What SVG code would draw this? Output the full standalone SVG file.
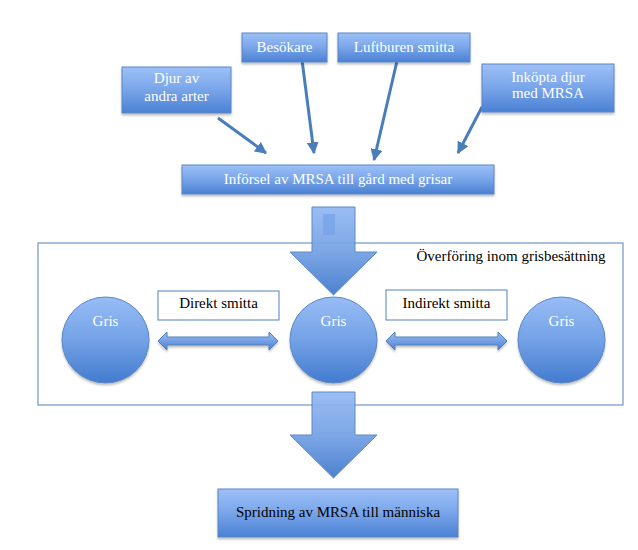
<svg xmlns="http://www.w3.org/2000/svg" width="638" height="550" viewBox="0 0 638 550">
<style>
.box{stroke:#5a86c4;stroke-width:1;fill:url(#gBox);filter:url(#sh)}
.wt{fill:#ffffff;text-anchor:middle}
.bt{fill:#000000;text-anchor:middle}
.lbl{fill:#ffffff;stroke:#4f81bd;stroke-width:1}
.conn{stroke:#4a7ebb;stroke-width:3;fill:none;marker-end:url(#ah)}
.circ{fill:url(#gCirc);stroke:#5a86c4;stroke-width:1;filter:url(#sh)}
.big{fill:url(#gArrow);stroke:#4f81bd;stroke-width:1}
.dbl{fill:url(#gDbl);stroke:#4f81bd;stroke-width:1;filter:url(#sh)}
</style>
<defs>
<linearGradient id="gBox" x1="0" y1="0" x2="0" y2="1">
<stop offset="0" stop-color="#9dc0f7"/>
<stop offset="0.5" stop-color="#78a5e9"/>
<stop offset="1" stop-color="#4a80d3"/>
</linearGradient>
<linearGradient id="gCirc" x1="0" y1="0" x2="0" y2="1">
<stop offset="0" stop-color="#98bcf6"/>
<stop offset="0.5" stop-color="#73a2e6"/>
<stop offset="1" stop-color="#437bcf"/>
</linearGradient>
<linearGradient id="gArrow" x1="0" y1="0" x2="0" y2="1">
<stop offset="0" stop-color="#93b8f4"/>
<stop offset="0.5" stop-color="#72a0e4"/>
<stop offset="1" stop-color="#3f77cb"/>
</linearGradient>
<linearGradient id="gDbl" x1="0" y1="0" x2="0" y2="1">
<stop offset="0" stop-color="#9ec0f6"/>
<stop offset="1" stop-color="#4a7fd0"/>
</linearGradient>
<filter id="sh" x="-10%" y="-10%" width="130%" height="140%">
<feDropShadow dx="0" dy="2" stdDeviation="1.2" flood-color="#000" flood-opacity="0.25"/>
</filter>
<marker id="ah" viewBox="0 0 10 10" refX="9" refY="5" markerWidth="4" markerHeight="4" orient="auto" markerUnits="strokeWidth">
<path d="M0,0 L10,5 L0,10 z" fill="#4a7ebb"/>
</marker>
</defs>

<rect id="container" x="38" y="243" width="585" height="162" fill="none" stroke="#4f81bd" stroke-width="1"/>
<text class="bt" x="511" y="261" font-family="Liberation Serif" font-size="15">Överföring inom grisbesättning</text>

<g id="connectors">
<line class="conn" x1="218" y1="118" x2="266" y2="153"/>
<line class="conn" x1="302" y1="60" x2="314" y2="153"/>
<line class="conn" x1="397" y1="61" x2="374" y2="160"/>
<line class="conn" x1="482" y1="107" x2="458" y2="153"/>
<polygon id="arrow-top" class="big" opacity="0.92" points="312,207 355,207 355,252 377,252 333.5,295 290,252 312,252"/>
<rect x="323" y="214" width="12" height="21" fill="#6f9ee4" opacity="0.6"/>
<polygon id="arrow-bottom" class="big" opacity="0.92" points="312,392 355,392 355,435 377,435 333.5,478 290,435 312,435"/>
<polygon id="dbl-left" class="dbl" points="158,341 167,332 167,337 269,337 269,332 278,341 269,350 269,345 167,345 167,350"/>
<polygon id="dbl-right" class="dbl" points="386,341 395,332 395,337 498,337 498,332 507,341 498,350 498,345 395,345 395,350"/>
</g>

<g id="djur">
<rect class="box" x="122" y="67" width="109" height="46"/>
<text class="wt" x="176.5" y="83" font-family="Liberation Serif" font-size="15">Djur av</text>
<text class="wt" x="176.5" y="101" font-family="Liberation Serif" font-size="15">andra arter</text>
</g>
<g id="besokare">
<rect class="box" x="242" y="33" width="85" height="29"/>
<text class="wt" x="284.5" y="52" font-family="Liberation Serif" font-size="15">Besökare</text>
</g>
<g id="luftburen">
<rect class="box" x="338" y="33" width="132" height="29"/>
<text class="wt" x="404" y="52" font-family="Liberation Serif" font-size="15">Luftburen smitta</text>
</g>
<g id="inkopta">
<rect class="box" x="482" y="64" width="132" height="48"/>
<text class="wt" x="548" y="82" font-family="Liberation Serif" font-size="15">Inköpta djur</text>
<text class="wt" x="548" y="98" font-family="Liberation Serif" font-size="15">med MRSA</text>
</g>
<g id="inforsel">
<rect class="box" x="182" y="165" width="312" height="29"/>
<text class="wt" x="338" y="184" font-family="Liberation Serif" font-size="15">Införsel av MRSA till gård med grisar</text>
</g>

<g id="gris-left">
<ellipse class="circ" cx="105.5" cy="340" rx="43.5" ry="43"/>
<text class="wt" x="105.5" y="326" font-family="Liberation Serif" font-size="15">Gris</text>
</g>
<g id="gris-mid">
<ellipse class="circ" cx="333.5" cy="340" rx="43.5" ry="43"/>
<text class="wt" x="333.5" y="326" font-family="Liberation Serif" font-size="15">Gris</text>
</g>
<g id="gris-right">
<ellipse class="circ" cx="561.5" cy="340" rx="43.5" ry="43"/>
<text class="wt" x="561.5" y="326" font-family="Liberation Serif" font-size="15">Gris</text>
</g>

<g id="direkt">
<rect class="lbl" x="158" y="291" width="121" height="29"/>
<text class="bt" x="218.5" y="308" font-family="Liberation Serif" font-size="15">Direkt smitta</text>
</g>
<g id="indirekt">
<rect class="lbl" x="386" y="290" width="121" height="30"/>
<text class="bt" x="446.5" y="308" font-family="Liberation Serif" font-size="15">Indirekt smitta</text>
</g>

<g id="spridning">
<rect class="box" x="218" y="489" width="240" height="48"/>
<text class="bt" x="338" y="517" font-family="Liberation Serif" font-size="15">Spridning av MRSA till människa</text>
</g>
</svg>
